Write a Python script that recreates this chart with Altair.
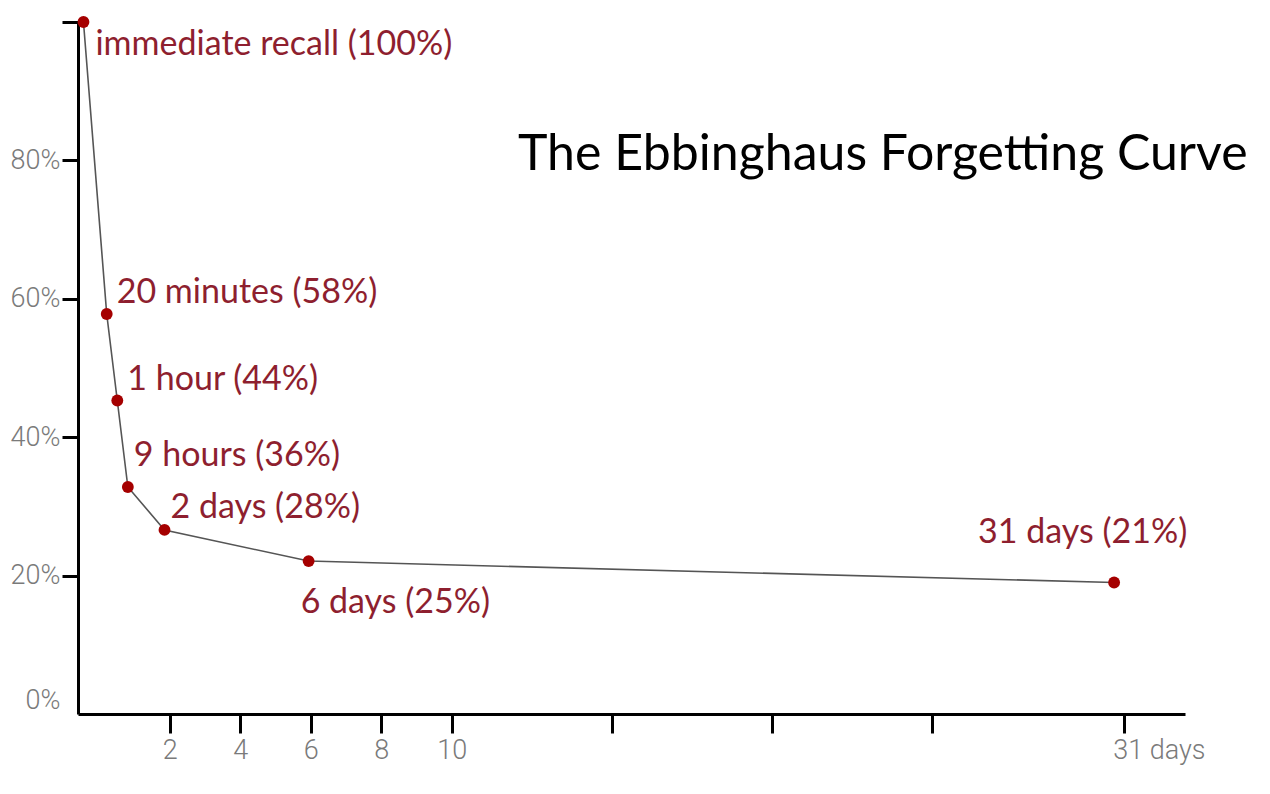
import altair as alt
import pandas as pd

# Values
labels = [
    "immediate recall (100%)",
    "20 minutes (58%)",
    "1 hour (44%)",
    "9 hours (36%)",
    "2 days (28%)",
    "6 days (25%)",
    "31 days (21%)",
]
x_days = [-0.45, 0.21, 0.51, 0.81, 1.85, 5.94, 30.7]      # position along the time axis, as drawn
retention = [100, 57.8, 45.3, 32.8, 26.6, 22.1, 19.0]     # % retained, as drawn
x_ticks = [2, 4, 6, 8, 10, 15, 20, 25, 31]
y_ticks = [0, 20, 40, 60, 80, 100]
title_text = "The Ebbinghaus Forgetting Curve"

df = pd.DataFrame({"i": list(range(len(labels))), "label": labels,
                   "day": x_days, "ret": retention})

W, H = 1107, 692
xscale = alt.Scale(domain=[-0.605, 10, 31, 32.9], range=[0, 373.7, 1045.7, W],
                   zero=False, nice=False)
yscale = alt.Scale(domain=[0, 100], nice=False, zero=True)

AX_FONT = "Roboto"
x_axis = alt.Axis(
    values=x_ticks, title=None, grid=False,
    domainColor="black", domainWidth=3,
    tickColor="black", tickWidth=3, tickSize=19,
    labelExpr="datum.value == 31 ? '31 days' : (datum.value <= 10 ? toString(datum.value) : '')",
    labelFont=AX_FONT, labelFontSize=27, labelFontWeight=300, labelColor="#7a7a7a",
    labelPadding=4, labelFlush=False,
    labelAlign={"condition": {"test": "datum.value == 31", "value": "left"}, "value": "center"},
    labelOffset={"condition": {"test": "datum.value == 31", "value": -11}, "value": 0},
)
y_axis = alt.Axis(
    values=y_ticks, title=None, grid=False,
    domainColor="black", domainWidth=3,
    tickColor={"condition": {"test": "datum.value == 0", "value": "transparent"}, "value": "black"},
    tickWidth=3, tickSize=16,
    labelExpr="datum.value == 100 ? '' : datum.value + '%'",
    labelFont=AX_FONT, labelFontSize=27, labelFontWeight=300, labelColor="#7a7a7a",
    labelPadding=2, labelFlush=True,
)

base = alt.Chart(df)

line = base.mark_line(color="#555555", strokeWidth=1.6).encode(
    x=alt.X("day:Q", scale=xscale, axis=x_axis),
    y=alt.Y("ret:Q", scale=yscale, axis=y_axis),
    order="i:O",
)
points = base.mark_point(filled=True, opacity=1, color="#a50000", size=140).encode(
    x=alt.X("day:Q", scale=xscale),
    y=alt.Y("ret:Q", scale=yscale),
)

LBL_FONT = "Lato"
offsets = [(12, 23), (10, -21), (10, -21), (6, -31), (6, -22), (-8, 42), (-136, -50)]
layers = [line, points]
for i, (dx, dy) in enumerate(offsets):
    layers.append(
        base.transform_filter(f"datum.i == {i}").mark_text(
            align="left", baseline="middle", dx=dx, dy=dy,
            font=LBL_FONT, fontSize=34, color="#8e1f2f",
        ).encode(
            x=alt.X("day:Q", scale=xscale),
            y=alt.Y("ret:Q", scale=yscale),
            text="label:N",
        )
    )

title = alt.Chart(pd.DataFrame({"t": [title_text]})).mark_text(
    align="left", baseline="middle", font=LBL_FONT, fontSize=50, color="black",
).encode(x=alt.value(440), y=alt.value(133), text="t:N")
layers.append(title)

chart = alt.layer(*layers).properties(
    width=W, height=H,
    padding={"left": 70, "top": 14, "right": 76, "bottom": 60},
    autosize=alt.AutoSizeParams(type="none"),
    background="white",
).configure_view(stroke=None)

chart.save("out.html", embed_options={"renderer": "svg", "actions": False})
